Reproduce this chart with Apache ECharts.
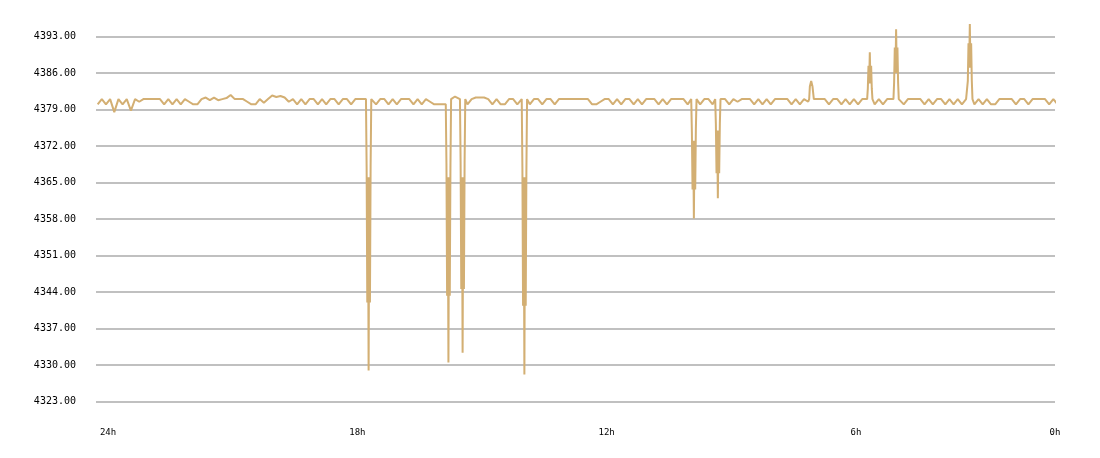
<!DOCTYPE html>
<html>
<head>
<meta charset="utf-8">
<script src="https://cdn.jsdelivr.net/npm/echarts@6/dist/echarts.min.js"></script>
<style>
html,body{margin:0;padding:0;background:#fff;}
#chart{width:1100px;height:458px;}
</style>
</head>
<body>
<div id="chart"></div>
<script>
// x values are "hours ago"
const xMin = 1.21, xMax = 24.29;
const tickPositions = [24, 18, 12, 6, 1.21];
const tickLabels = ['24h', '18h', '12h', '6h', '0h'];

// baseline readings, one every 0.1 h starting at 24.25 h ago
const baseStart = 24.25;
const baseStep = 0.1;
const baseValues = [
  4380,4381,4380,4381,4378.5,4381,4380,4381,4378.8,4381,
  4380.5,4381,4381,4381,4381,4381,4380,4381,4380,4381,
  4380,4381,4380.5,4380,4380,4381,4381.3,4380.8,4381.3,4380.8,
  4381,4381.2,4381.8,4381,4381,4381,4380.5,4380,4380,4381,
  4380.3,4381,4381.7,4381.4,4381.6,4381.3,4380.5,4381,4380,4381,
  4380,4381,4381,4380,4381,4380,4381,4381,4380,4381,
  4381,4380,4381,4381,4381,4381,4381,4380,4381,4381,
  4380,4381,4380,4381,4381,4381,4380,4381,4380,4381,
  4380.5,4380,4380,4380,4380,4381,4381.5,4381,4381,4380,
  4381,4381.3,4381.3,4381.3,4381,4380,4381,4380,4380,4381,
  4381,4380,4381,4381,4380,4381,4381,4380,4381,4381,
  4380,4381,4381,4381,4381,4381,4381,4381,4381,4380,
  4380,4380.5,4381,4381,4380,4381,4380,4381,4381,4380,
  4381,4380,4381,4381,4381,4380,4381,4380,4381,4381,
  4381,4381,4380,4381,4381,4380,4381,4381,4380,4381,
  4380,4381,4380,4381,4380.5,4381,4381,4381,4380,4381,
  4380,4381,4380,4381,4381,4381,4381,4380,4381,4380,
  4381,4380.5,4381,4381,4381,4381,4380,4381,4381,4380,
  4381,4380,4381,4380,4381,4381,4381,4380,4381,4380,
  4381,4381,4381,4381,4380,4381,4381,4381,4381,4380,
  4381,4380,4381,4381,4380,4381,4380,4381,4380,4381,
  4381,4380,4381,4380,4381,4380,4380,4381,4381,4381,
  4381,4380,4381,4381,4380,4381,4381,4381,4381,4380,
  4381,4380,4381
];

// short bursts sampled finely, start time in hours ago
const spikeStep = 0.016;
const spikeStarts = [17.793, 15.872, 15.531, 14.044, 9.965, 9.388, 7.126, 5.731, 5.098, 3.324];
const spike1 = [4381, 4368, 4342, 4366, 4329, 4366, 4342, 4368, 4381];
const spike2 = [4380, 4368.7, 4343.3, 4366, 4330.5, 4366, 4343.3, 4367.7, 4381];
const spike3 = [4381, 4368.9, 4344.6, 4366, 4332.4, 4366, 4344.6, 4368.9, 4381];
const spike4 = [4381, 4367.9, 4341.4, 4366, 4328.2, 4366, 4341.4, 4367, 4381];
const spike5 = [4381, 4374.7, 4363.7, 4373, 4358.1, 4373, 4363.7, 4375.3, 4381];
const spike6 = [4381, 4376.3, 4366.8, 4375, 4362.0, 4375, 4366.8, 4376.3, 4381];
const spike7 = [4381, 4383.4, 4383.4, 4384.5, 4384.5, 4383.4, 4383.4, 4381, 4381];
const spike8 = [4381, 4383, 4387.4, 4384, 4390.0, 4384, 4387.4, 4383, 4381];
const spike9 = [4381, 4384.2, 4390.9, 4386, 4394.4, 4386, 4390.9, 4384.2, 4381];
const spike10 = [4381, 4384.5, 4391.7, 4387, 4395.4, 4387, 4391.7, 4384.5, 4381];
const spikeValues = [spike1, spike2, spike3, spike4, spike5, spike6, spike7, spike8, spike9, spike10];

// build the point table
const points = [];
const ranges = spikeStarts.map((s, k) => [s - spikeStep * (spikeValues[k].length - 1) - 0.02, s + 0.02]);
baseValues.forEach((v, i) => {
  const t = +(baseStart - baseStep * i).toFixed(4);
  const inside = ranges.some(r => t >= r[0] && t <= r[1]);
  if (!inside) points.push([t, v]);
});
spikeStarts.forEach((s, k) => {
  spikeValues[k].forEach((v, j) => points.push([+(s - spikeStep * j).toFixed(4), v]));
});
points.sort((a, b) => b[0] - a[0]);

const chart = echarts.init(document.getElementById('chart'), null, {renderer: 'canvas'});
chart.setOption({
  animation: false,
  backgroundColor: '#fff',
  grid: {left: 96, right: 45, top: -2, bottom: 56.3, containLabel: false},
  xAxis: {
    type: 'value',
    min: xMin,
    max: xMax,
    inverse: true,
    axisLine: {show: false},
    axisTick: {show: false},
    splitLine: {show: false},
    axisLabel: {
      customValues: tickPositions,
      formatter: function (v) {
        let best = 0, d = 1e9;
        tickPositions.forEach((p, i) => { if (Math.abs(p - v) < d) { d = Math.abs(p - v); best = i; } });
        return tickLabels[best];
      },
      fontFamily: 'DejaVu Sans Mono',
      fontSize: 9,
      color: '#000',
      margin: 26,
      showMinLabel: true,
      showMaxLabel: true
    }
  },
  yAxis: {
    type: 'value',
    min: 4323,
    max: 4400,
    interval: 7,
    axisLine: {show: false},
    axisTick: {show: false},
    splitLine: {show: true, showMaxLine: false, lineStyle: {color: '#c0c0c0', width: 2}},
    axisLabel: {
      showMaxLabel: false,
      formatter: v => v.toFixed(2),
      fontFamily: 'DejaVu Sans Mono',
      fontSize: 10,
      color: '#000',
      margin: 20
    }
  },
  series: [{
    type: 'line',
    data: points,
    symbol: 'none',
    showSymbol: false,
    clip: false,
    lineStyle: {color: '#d3af73', width: 2},
    itemStyle: {color: '#d3af73'}
  }]
});
</script>
</body>
</html>
